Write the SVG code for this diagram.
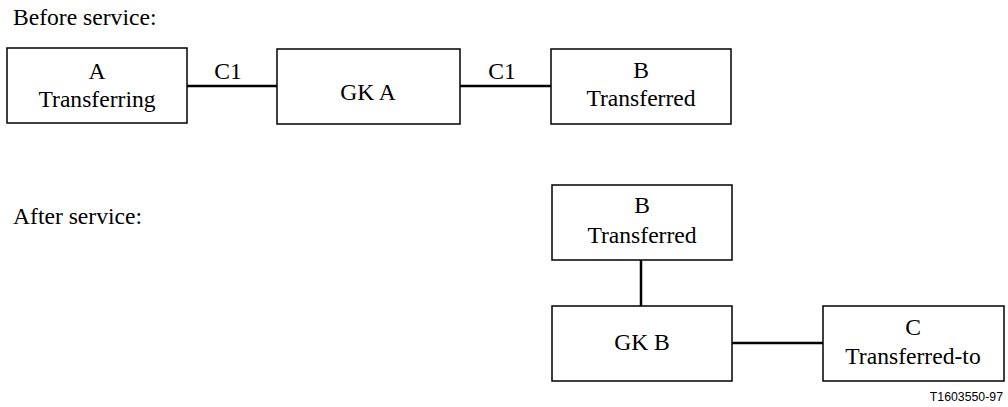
<svg xmlns="http://www.w3.org/2000/svg" width="1008" height="407" viewBox="0 0 1008 407">
<style>
.box{fill:#fff;stroke:#000;stroke-width:1.5}
.ln{stroke:#000;stroke-width:2.5;fill:none}
text{font-family:"Liberation Serif","Times New Roman",serif;font-size:23.6px;fill:#000}
.c{text-anchor:middle}
.s{font-family:"Liberation Sans",Arial,sans-serif;font-size:12.3px;text-anchor:end}
</style>
<rect width="1008" height="407" fill="#fff"/>
<text x="13" y="25">Before service:</text>
<text x="13" y="224">After service:</text>
<g id="connectors">
<line class="ln" x1="187" y1="86" x2="277" y2="86"/>
<line class="ln" x1="460" y1="86" x2="551" y2="86"/>
<line class="ln" x1="641" y1="260" x2="641" y2="306"/>
<line class="ln" x1="732" y1="343" x2="823" y2="343"/>
<text class="c" x="228" y="79">C1</text>
<text class="c" x="502" y="79">C1</text>
</g>
<g id="nodeA"><rect class="box" x="7" y="48" width="180" height="75"/><text class="c" x="97" y="79">A</text><text class="c" x="97" y="107">Transferring</text></g>
<g id="gkA"><rect class="box" x="277" y="49" width="183" height="75"/><text class="c" x="368" y="100">GK A</text></g>
<g id="nodeB1"><rect class="box" x="551" y="49" width="180" height="75"/><text class="c" x="641" y="78">B</text><text class="c" x="641" y="106">Transferred</text></g>
<g id="nodeB2"><rect class="box" x="552" y="185" width="180" height="75"/><text class="c" x="642" y="213">B</text><text class="c" x="642" y="243">Transferred</text></g>
<g id="gkB"><rect class="box" x="552" y="306" width="180" height="75"/><text class="c" x="642" y="350">GK B</text></g>
<g id="nodeC"><rect class="box" x="823" y="306" width="181" height="75"/><text class="c" x="913" y="335">C</text><text class="c" x="913" y="364">Transferred-to</text></g>
<text class="s" x="1003" y="401">T1603550-97</text>
</svg>
